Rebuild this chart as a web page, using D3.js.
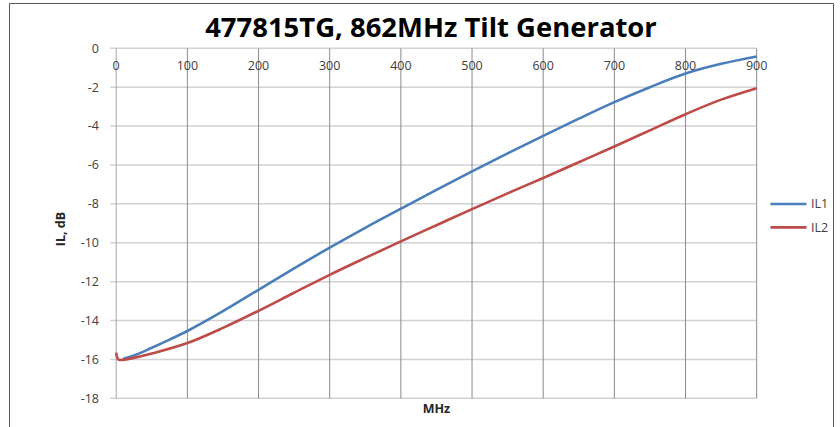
<!DOCTYPE html>
<html>
<head>
<meta charset="utf-8">
<script src="https://cdn.jsdelivr.net/npm/d3@7"></script>
<style>
  html, body { margin: 0; padding: 0; background: #fff; }
  svg { display: block; }
  .tick-label { font-family: 'Open Sans', sans-serif; font-size: 12.5px; fill: #404040; }
</style>
</head>
<body>
<svg id="chart" width="840" height="427"></svg>
<script>
var WIDTH = 840;
var HEIGHT = 427;
var PLOT = { left: 116.2, right: 756.7, top: 48.3, bottom: 398.3 };

// frequency points (MHz)
var IL1_MHZ = [10, 25, 50, 75, 100, 150, 200, 250, 300, 350, 400, 450, 500, 550, 600, 650, 700, 750, 800, 850, 900];
var IL1_DB = [-15.97, -15.8, -15.4, -14.98, -14.54, -13.52, -12.42, -11.32, -10.25, -9.23, -8.25, -7.28, -6.33, -5.4, -4.5, -3.62, -2.77, -2.0, -1.3, -0.8, -0.42];

var IL2_MHZ = [0, 3, 10, 25, 50, 100, 150, 200, 250, 300, 350, 400, 450, 500, 550, 600, 650, 700, 750, 800, 850, 900];
var IL2_DB = [-15.65, -16.0, -16.02, -15.92, -15.7, -15.16, -14.38, -13.5, -12.57, -11.65, -10.78, -9.93, -9.1, -8.27, -7.46, -6.67, -5.86, -5.05, -4.22, -3.39, -2.64, -2.05];

var X_TICKS = [0, 100, 200, 300, 400, 500, 600, 700, 800, 900];
var Y_TICKS = [0, -2, -4, -6, -8, -10, -12, -14, -16, -18];

var SERIES_NAMES = ['IL1', 'IL2'];
var SERIES_COLORS = ['#4a7ebb', '#be4b48'];

var TITLE = '477815TG, 862MHz Tilt Generator';
var X_TITLE = 'MHz';
var Y_TITLE = 'IL, dB';

var svg = d3.select('#chart');

var xScale = d3.scaleLinear().domain([0, 900]).range([PLOT.left, PLOT.right]);
var yScale = d3.scaleLinear().domain([-18, 0]).range([PLOT.bottom, PLOT.top]);

// chart frame
svg.append('path')
  .attr('d', 'M9.5,427 L9.5,3.5 L833.5,3.5 L833.5,427')
  .attr('fill', 'none')
  .attr('stroke', '#5a5a5a')
  .attr('stroke-width', 1);

// horizontal gridlines (with the small ticks to the left)
svg.append('g')
  .selectAll('line')
  .data(Y_TICKS)
  .enter()
  .append('line')
  .attr('x1', PLOT.left - 6)
  .attr('x2', PLOT.right)
  .attr('y1', d => yScale(d))
  .attr('y2', d => yScale(d))
  .attr('stroke', '#d2d2d2')
  .attr('stroke-width', 1.5);

// vertical gridlines
svg.append('g')
  .selectAll('line')
  .data(X_TICKS)
  .enter()
  .append('line')
  .attr('x1', d => xScale(d))
  .attr('x2', d => xScale(d))
  .attr('y1', PLOT.top)
  .attr('y2', PLOT.bottom)
  .attr('stroke', d => d === 0 ? '#a6a6a6' : '#8c8c8c')
  .attr('stroke-width', 1);

// y tick labels
svg.append('g')
  .selectAll('text')
  .data(Y_TICKS)
  .enter()
  .append('text')
  .attr('class', 'tick-label')
  .attr('x', 99)
  .attr('y', d => yScale(d))
  .attr('dy', '0.35em')
  .attr('text-anchor', 'end')
  .text(d => d === 0 ? '0' : '-' + Math.abs(d));

// x tick labels sit just under the 0 dB line
svg.append('g')
  .selectAll('text')
  .data(X_TICKS)
  .enter()
  .append('text')
  .attr('class', 'tick-label')
  .attr('x', d => xScale(d))
  .attr('y', 70)
  .attr('text-anchor', 'middle')
  .text(d => d);

var line = d3.line()
  .curve(d3.curveCatmullRom.alpha(0.5))
  .x(d => xScale(d[0]))
  .y(d => yScale(d[1]));

var seriesData = [
  d3.zip(IL1_MHZ, IL1_DB),
  d3.zip(IL2_MHZ, IL2_DB)
];

seriesData.forEach((pts, i) => {
  svg.append('path')
    .attr('d', line(pts))
    .attr('fill', 'none')
    .attr('stroke', SERIES_COLORS[i])
    .attr('stroke-width', 2.6)
    .attr('stroke-linejoin', 'round');
});

// title, squeezed to the width it takes in the original
var title = svg.append('text')
  .attr('x', 431)
  .attr('y', 37)
  .attr('text-anchor', 'middle')
  .attr('font-family', "'Open Sans', sans-serif")
  .attr('font-weight', 'bold')
  .attr('font-size', 22)
  .attr('fill', '#000')
  .text(TITLE);
var tw = title.node().getComputedTextLength();
title.attr('font-size', 22 * 452 / tw);

svg.append('text')
  .attr('x', (PLOT.left + PLOT.right) / 2)
  .attr('y', 413)
  .attr('text-anchor', 'middle')
  .attr('font-family', "'Open Sans', sans-serif")
  .attr('font-weight', 'bold')
  .attr('font-size', 12.5)
  .attr('fill', '#262626')
  .text(X_TITLE);

svg.append('text')
  .attr('transform', 'translate(65, 229) rotate(-90)')
  .attr('text-anchor', 'middle')
  .attr('font-family', "'Open Sans', sans-serif")
  .attr('font-weight', 'bold')
  .attr('font-size', 12.5)
  .attr('fill', '#262626')
  .text(Y_TITLE);

// legend
var legend = svg.append('g').attr('transform', 'translate(770, 204)');
SERIES_NAMES.forEach((name, i) => {
  var g = legend.append('g').attr('transform', 'translate(0, ' + (i * 23.4) + ')');
  g.append('line')
    .attr('x1', 0.5)
    .attr('x2', 36.5)
    .attr('stroke', SERIES_COLORS[i])
    .attr('stroke-width', 2.6);
  g.append('text')
    .attr('class', 'tick-label')
    .attr('x', 41)
    .attr('dy', '0.35em')
    .text(name);
});
</script>
</body>
</html>
